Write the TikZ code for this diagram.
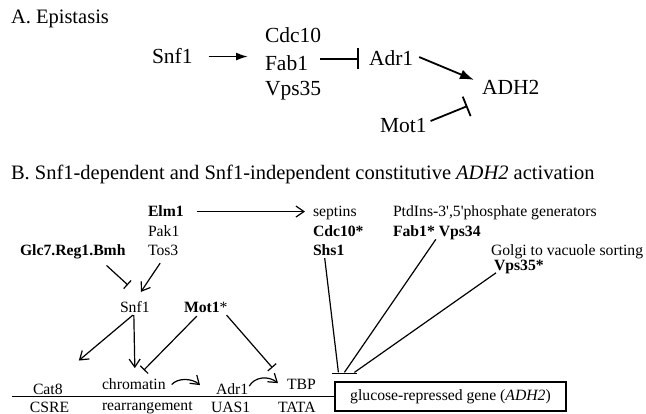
\documentclass[tikz,border=0pt]{standalone}
\usepackage{fontspec}
\setmainfont{Liberation Serif}
\newfontfamily\rawserif{Liberation Serif}[Ligatures=TeXOff]
\usetikzlibrary{arrows.meta,calc}
\begin{document}
\begin{tikzpicture}[x=1pt,y=-1pt,
  lbl/.style={anchor=base west,inner sep=0pt,outer sep=0pt},
  ttl/.style={lbl,font=\fontsize{20.5}{24}\selectfont},
  ta/.style={lbl,font=\fontsize{21.5}{26}\selectfont},
  tb/.style={lbl,font=\fontsize{15.7}{19}\selectfont},
  actA/.style={line width=1.8pt,-{Latex[length=12pt,width=8pt]}},
  inhA/.style={line width=1.8pt,-{Bar[width=21pt]}},
  actB/.style={line width=1.2pt,-{Straight Barb[length=8pt,width=11pt]}},
  inhB/.style={line width=1.2pt,-{Bar[width=11pt]}},
  plainB/.style={line width=1.2pt},
]
\fill[white] (0,0) rectangle (646,414);
\useasboundingbox (0,0) rectangle (646,414);

% ---------- Part A ----------
\node[ttl] (tA) at (11,24) {A. Epistasis};
\node[ta] (snfA) at (152,64) {Snf1};
\node[ta] (cdcA) at (265,43) {Cdc10};
\node[ta] (fabA) at (265,71) {Fab1};
\node[ta] (vpsA) at (265,96) {Vps35};
\node[ta] (adrA) at (369,66) {Adr1};
\node[ta] (adhA) at (482,95) {ADH2};
\node[ta] (motA) at (380,133) {Mot1};

\draw[actA,shorten <=16pt,shorten >=17pt] (snfA.east) -- (cdcA.west |- snfA.east);
\draw[inhA,shorten <=12pt,shorten >=10pt] (fabA.east |- adrA.west) -- (adrA.west);
\draw[actA,-{Latex[length=14pt,width=10pt]}] ($(adrA.east)+(6,-1.6)$) -- ($(adhA.west)+(-8,-8)$);
\draw[inhA] ($(motA.east)+(4,-5)$) -- ($(adhA.south west)+(-14.5,11)$);

% ---------- Part B ----------
\node[ttl] (tB) at (11,180) {B. Snf1-dependent and Snf1-independent constitutive \textit{ADH2} activation};

\node[tb] (elm) at (148,217) {\textbf{Elm1}};
\node[tb] (pak) at (148,237) {Pak1};
\node[tb] (tos) at (148,256) {Tos3};
\node[tb] (glc) at (20,256) {\textbf{Glc7.Reg1.Bmh}};
\node[tb] (sept) at (313,217) {septins};
\node[tb] (cdc) at (313,237) {\textbf{Cdc10*}};
\node[tb] (shs) at (313,256) {\textbf{Shs1}};
\node[tb] (ptd) at (393,217) {\rawserif PtdIns-3',5'phosphate generators};
\node[tb] (fab) at (393,237) {\textbf{Fab1* Vps34}};
\node[tb] (golgi) at (491,256) {Golgi to vacuole sorting};
\node[tb] (vps) at (494,270.5) {\textbf{Vps35*}};
\node[tb] (snf) at (120,313) {Snf1};
\node[tb] (mot) at (184,313) {\textbf{Mot1}*};

\node[tb] (cat) at (33,395) {Cat8};
\node[tb] (csre) at (30,412) {CSRE};
\node[tb] (chrom) at (102,390) {chromatin};
\node[tb] (rearr) at (102,410.5) {rearrangement};
\node[tb] (adrB) at (216,395) {Adr1};
\node[tb] (uas) at (211,412) {UAS1};
\node[tb] (tbp) at (287,390) {TBP};
\node[tb] (tata) at (278,412) {TATA};

\node[draw,line width=1.2pt,minimum width=231pt,minimum height=29pt,inner sep=0pt,
      font=\fontsize{15.7}{19}\selectfont] (gene) at (450.5,396.5)
      {glucose-repressed gene (\textit{ADH2})};

\coordinate (lstart) at (12,396.5);
\draw[plainB] (lstart) -- (gene.west);

% connectors
\draw[actB,shorten <=13pt,shorten >=8pt] (elm.east) -- (sept.west |- elm.east);
\draw[inhB] ($(glc.south east)+(-19,6)$) -- ($(snf.north)+(-7,-17)$);
\draw[actB] ($(tos.south)+(-3,7)$) -- ($(snf.north)+(6,-10)$);
\draw[actB] ($(snf.south)+(-2,2)$) -- ($(cat.north)+(31,-24)$);
\draw[actB] ($(snf.south)+(-1,2)$) -- ($(chrom.north)+(1,-11)$);
\draw[inhB] ($(mot.south)+(-9,3)$) -- ($(chrom.north)+(10,-9)$);
\draw[inhB] ($(mot.south east)+(-1,2)$) -- ($(tbp.north)+(-29,-12)$);

\draw[actB] ($(chrom.east)+(6,0)$) .. controls +(6,-7) and +(-8,-7) .. ($(adrB.north west)+(-16,1)$);
\draw[actB] ($(adrB.north east)+(1,2)$) .. controls +(5,-9) and +(-10,-8) .. ($(tbp.north west)+(-9,3.4)$);

% converging inhibition onto the gene
\draw[plainB] ($(shs.south)+(-4,2)$) -- ($(gene.north west)+(4,-9)$);
\draw[plainB] ($(fab.south)+(-1,-1)$) -- ($(gene.north west)+(10,-9)$);
\draw[plainB] ($(vps.south west)+(2,-1)$) -- ($(gene.north west)+(20,-9)$);
\draw[plainB] ($(gene.north west)+(-2,-8)$) -- ($(gene.north west)+(23,-8)$);
\end{tikzpicture}
\end{document}
